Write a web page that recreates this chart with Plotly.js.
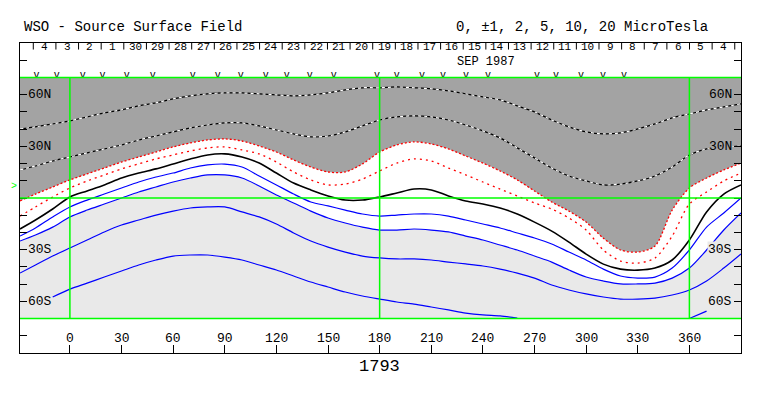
<!DOCTYPE html>
<html>
<head>
<meta charset="utf-8">
<script src="https://cdn.plot.ly/plotly-3.0.1.min.js"></script>
<style>html,body{margin:0;padding:0;background:#fff;}#chart{width:763px;height:396px;}</style>
</head>
<body>
<div id="chart"></div>
<script>
// Carrington longitude grid (degrees)
const lon = [-29,-20,-10,0,10,20,30,40,50,60,70,80,90,100,110,120,130,140,150,160,170,180,190,200,210,220,230,240,250,260,270,280,290,300,310,320,330,340,350,360,370,380,390];

// contour latitudes (deg) per level
const negTen  = [40.1,41.3,43.0,44.8,47.1,49.4,51.2,53.5,55.2,57.6,59.3,60.5,61.0,61.0,60.5,59.9,59.3,59.9,61.0,62.8,64.0,64.0,64.5,64.0,63.4,62.2,60.5,58.7,57.0,53.5,50.0,45.3,41.3,38.4,37.2,37.8,40.1,43.0,46.5,48.8,51.2,52.9,54.7];
const negFive = [16.3,18.6,21.5,23.8,26.2,28.5,30.8,33.7,36.0,38.4,40.7,42.4,43.6,43.6,41.9,39.5,37.2,35.5,36.0,38.4,41.9,45.3,47.1,47.7,47.1,45.3,42.4,39.0,34.9,29.1,23.3,17.4,12.8,9.9,7.6,8.1,9.9,12.8,18.0,25.0,28.5,29.7,30.2];
const negTwo  = [-1.7,2.3,6.4,10.5,14.0,17.4,20.9,23.8,26.7,29.7,32.0,33.7,34.3,33.1,30.2,26.7,22.1,18.0,15.1,15.1,19.8,26.7,30.8,32.6,31.4,28.5,24.4,20.3,15.7,10.5,4.1,-2.3,-7.6,-14.0,-23.3,-30.2,-31.4,-27.9,-7.0,5.8,11.6,16.3,20.3];
const negOne  = [-10.5,-5.2,0.6,5.8,9.9,13.4,16.9,19.8,22.7,25.0,27.3,29.1,29.7,27.9,25.6,20.9,15.1,10.5,7.6,8.1,11.0,15.7,20.3,22.7,21.5,17.4,13.4,9.3,5.2,1.2,-2.9,-6.4,-11.6,-18.6,-30.2,-36.6,-37.8,-34.9,-22.1,-3.5,3.5,9.9,14.5];
const neutral = [-18.0,-12.8,-6.4,0.6,4.1,7.6,11.6,14.5,16.9,19.8,22.7,25.0,25.6,23.8,20.3,14.5,8.7,4.7,1.2,-1.2,-1.2,0.6,2.9,5.2,4.7,1.2,-1.7,-3.5,-5.8,-9.3,-14.0,-19.2,-25.6,-32.6,-38.4,-41.3,-41.9,-40.7,-36.0,-24.4,-8.1,2.3,7.6];
const posOne  = [-22.1,-17.4,-11.0,-5.2,-1.2,2.3,5.8,9.3,12.2,14.5,17.4,19.2,19.7,18.0,12.8,7.6,2.3,-2.3,-4.6,-7.0,-9.3,-10.5,-9.9,-9.3,-9.3,-10.5,-12.8,-15.1,-17.4,-20.3,-23.2,-26.7,-31.4,-36.0,-41.3,-45.3,-46.5,-45.9,-40.7,-30.2,-16.9,-8.7,0.0];
const posTwo  = [-25.0,-21.5,-16.9,-11.0,-7.0,-3.5,0.0,3.5,6.4,9.3,11.6,13.4,13.4,11.6,7.0,1.7,-2.9,-7.6,-11.6,-14.5,-16.9,-18.6,-18.6,-18.0,-18.6,-19.7,-22.1,-24.4,-27.3,-30.2,-33.7,-37.2,-41.8,-45.9,-48.2,-49.9,-49.9,-49.4,-46.5,-40.7,-30.2,-18.6,-8.7];
const posFive = [-43.6,-38.9,-33.7,-29.0,-24.4,-19.7,-15.7,-12.8,-9.9,-7.6,-5.8,-5.2,-5.2,-8.1,-11.0,-15.1,-20.3,-25.0,-28.5,-31.4,-33.7,-34.8,-35.4,-35.4,-36.0,-37.2,-38.3,-39.5,-41.3,-43.6,-46.5,-50.5,-53.4,-55.7,-57.5,-58.7,-58.7,-58.1,-56.3,-53.4,-48.2,-40.7,-32.5];
const posTen  = [null,null,-57.5,-52.9,-49.4,-45.9,-42.4,-38.9,-36.0,-33.7,-33.1,-33.1,-34.3,-36.0,-38.9,-41.8,-45.3,-48.8,-51.7,-54.6,-56.9,-58.7,-60.4,-61.6,-63.3,-65.0,-66.8,-67.9,-68.5,-69.7,null,null,null,null,null,null,null,null,null,-70,-65.7,null,null];

// observation day marks (longitude)
const obsLon = [-19.4,-7.7,7.4,19.0,33.0,48.1,71.4,85.9,99.3,113.8,126.0,139.4,153.4,178.4,190.0,204.6,216.8,230.2,243.0,271.4,282.5,297.0,309.8,322.0];

// date labels along top (time runs right to left)
const dayLabels = ["4","3","2","1","30","29","28","27","26","25","24","23","22","21","20","19","18","17","16","15","14","13","12","11","10","9","8","7","6","5","4"];
const firstDayLon = -14.7;
const degPerDay = 13.15;

const lonTicks = [0,30,60,90,120,150,180,210,240,270,300,330,360];
const latLabelVals = [60,30,-30,-60];
const latLabelText = ["60N","30N","30S","60S"];
const b0Angle = 6.4;

const XR = [-29, 390];
const DARK = '#a3a3a3', LIGHT = '#e9e9e9', GREEN = '#00ff00', BLUE = '#0000ff', RED = '#ff0000';
const MONO = 'Liberation Mono, DejaVu Sans Mono, monospace';

const traces = [];
// dark grey (below -2)
traces.push({x: XR, y: [70,70], mode:'lines', line:{width:0}, hoverinfo:'skip'});
traces.push({x: lon, y: negTwo, mode:'lines', line:{width:0, shape:'spline', smoothing:0.8}, fill:'tonexty', fillcolor: DARK, hoverinfo:'skip'});
// light grey (above +2)
traces.push({x: XR, y: [-70,-70], mode:'lines', line:{width:0}, hoverinfo:'skip'});
traces.push({x: lon, y: posTwo, mode:'lines', line:{width:0, shape:'spline', smoothing:0.8}, fill:'tonexty', fillcolor: LIGHT, hoverinfo:'skip'});

function contour(vals, color, width, dash) {
  traces.push({x: lon, y: vals, mode:'lines', connectgaps:false,
    line:{color: color, width: width, dash: dash || 'solid', shape:'spline', smoothing:0.8}, hoverinfo:'skip'});
}
contour(negTen, '#000', 1.2);
contour(negTen, '#fff', 1.2, '3px,3px');
contour(negFive, '#000', 1.2);
contour(negFive, '#fff', 1.2, '3px,3px');
contour(negTwo, RED, 1.3, '2px,2px');
contour(negOne, RED, 1.3, '2px,4px');
contour(neutral, '#000', 1.6);
contour(posOne, BLUE, 1.2);
contour(posTwo, BLUE, 1.2);
contour(posFive, BLUE, 1.2);
contour(posTen, BLUE, 1.2);

// observation marks
traces.push({x: obsLon, y: obsLon.map(() => 71.4), mode:'text', text: obsLon.map(() => 'v'),
  textfont:{family: MONO, size: 10, color:'#000'}, textposition:'middle center', hoverinfo:'skip', cliponaxis:false});

const shapes = [];
const gl = {color: GREEN, width: 1.5};
[0, 70, -70].forEach(v => shapes.push({type:'line', xref:'x', yref:'y', x0: XR[0], x1: XR[1], y0: v, y1: v, line: gl, layer:'above'}));
[0, 180, 360].forEach(v => shapes.push({type:'line', xref:'x', yref:'y', x0: v, x1: v, y0: -70, y1: 70, line: gl, layer:'above'}));
// day separators
for (let i = 0; i <= dayLabels.length; i++) {
  const xs = firstDayLon + (i - 0.5) * degPerDay;
  shapes.push({type:'line', xref:'x', yref:'y', x0: xs, x1: xs, y0: 90, y1: 86.2, line:{color:'#000', width:1}, layer:'above'});
}

const annotations = [];
annotations.push({xref:'paper', yref:'paper', x: 0.003, y: 1.05, xanchor:'left', yanchor:'middle', showarrow:false,
  text:'WSO - Source Surface Field', font:{family: MONO, size: 14, color:'#000'}});
annotations.push({xref:'paper', yref:'paper', x: 0.957, y: 1.05, xanchor:'right', yanchor:'middle', showarrow:false,
  text:'0, ±1, 2, 5, 10, 20 MicroTesla', font:{family: MONO, size: 14, color:'#000'}});
annotations.push({xref:'x', yref:'paper', x: 180, y: -0.042, xanchor:'center', yanchor:'middle', showarrow:false,
  text:'1793', font:{family: MONO, size: 17, color:'#000'}});
annotations.push({xref:'x', yref:'y', x: 242, y: 79.0, xanchor:'center', yanchor:'middle', showarrow:false,
  text:'SEP 1987', font:{family: MONO, size: 12, color:'#000'}, borderpad: 0});
dayLabels.forEach((d, i) => annotations.push({xref:'x', yref:'y', x: firstDayLon + i * degPerDay, y: 87.4,
  xanchor:'center', yanchor:'middle', showarrow:false, text: d, font:{family: MONO, size: 11, color:'#000'}, borderpad: 0}));
lonTicks.forEach(t => annotations.push({xref:'x', yref:'y', x: t, y: -81.3, xanchor:'center', yanchor:'middle',
  showarrow:false, text: String(t), font:{family: MONO, size: 13, color:'#000'}}));
latLabelVals.forEach((v, i) => {
  const bg = v > 0 ? DARK : LIGHT;
  annotations.push({xref:'paper', yref:'y', x: 0, y: v, xanchor:'left', yanchor:'middle', xshift: 7, showarrow:false,
    text: latLabelText[i], font:{family: MONO, size: 13, color:'#000'}, borderpad: 0});
  annotations.push({xref:'paper', yref:'y', x: 1, y: v, xanchor:'right', yanchor:'middle', xshift: -8, showarrow:false,
    text: latLabelText[i], font:{family: MONO, size: 13, color:'#000'}, bgcolor: bg, borderpad: 0});
});
annotations.push({xref:'paper', yref:'y', x: 0, y: b0Angle, xanchor:'right', yanchor:'middle', xshift: -1, showarrow:false,
  text:'>', font:{family: MONO, size: 10, color: GREEN}});

const layout = {
  width: 763, height: 396,
  margin: {l: 20, r: 22, t: 43, b: 43, pad: 0},
  paper_bgcolor: '#fff', plot_bgcolor: '#fff',
  showlegend: false,
  xaxis: {range: XR, showgrid:false, zeroline:false, showline:true, mirror:true, linecolor:'#000', linewidth:1,
    ticks:'inside', ticklen: 8, tickcolor:'#000', tickvals: lonTicks, showticklabels:false, fixedrange:true},
  yaxis: {range: [-90, 90], showgrid:false, zeroline:false, showline:true, mirror:'ticks', linecolor:'#000', linewidth:1,
    ticks:'inside', ticklen: 7, tickcolor:'#000', tickvals: [-80,-70,-60,-50,-40,-30,-20,-10,0,10,20,30,40,50,60,70,80],
    showticklabels:false, fixedrange:true},
  shapes: shapes,
  annotations: annotations
};

Plotly.newPlot('chart', traces, layout, {staticPlot: true, displayModeBar: false});
</script>
</body>
</html>
